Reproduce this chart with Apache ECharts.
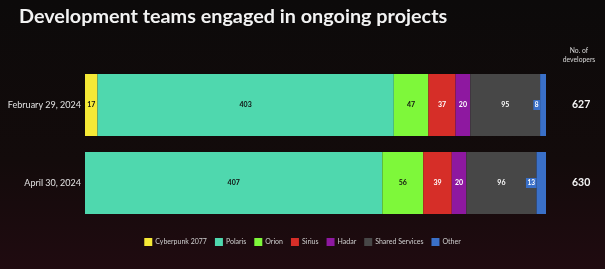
<!DOCTYPE html>
<html><head><meta charset="utf-8">
<script src="https://cdn.jsdelivr.net/npm/echarts@6/dist/echarts.min.js"></script>
<style>html,body{margin:0;padding:0;background:#0c0a0a}#c{width:605px;height:269px}</style>
</head><body><div id="c"></div>
<script>
const categories = ['February 29, 2024', 'April 30, 2024'];
const totals = [627, 630];
const seriesNames = ['Cyberpunk 2077', 'Polaris', 'Orion', 'Sirius', 'Hadar', 'Shared Services', 'Other'];
const cyberpunk = [17, 0];
const polaris = [403, 407];
const orion = [47, 56];
const sirius = [37, 39];
const hadar = [20, 20];
const shared = [95, 96];
const other = [8, 13];

const colors = ['#f5e936', '#4fd8ae', '#7ef83a', '#d62e28', '#8e18a0', '#474747', '#3a70c8'];
const labelColors = ['#111', '#111', '#111', '#fff', '#fff', '#fff', '#fff'];
const raw = [cyberpunk, polaris, orion, sirius, hadar, shared, other];
const rowSums = categories.map((_, i) => raw.reduce((s, arr) => s + arr[i], 0));

const series = raw.map((arr, k) => ({
  name: seriesNames[k],
  type: 'bar',
  stack: 'a',
  barWidth: 62,
  itemStyle: { color: colors[k] },
  data: arr.map((v, i) => ({ value: v / rowSums[i] * 100, raw: v })),
  label: k === 6 ? {
    show: true, position: 'left', distance: 0,
    formatter: p => p.data.raw,
    color: '#fff', fontSize: 6.5, fontWeight: 'bold',
    backgroundColor: colors[6], padding: [2, 1.5, 1, 1.5],
    fontFamily: 'Lato'
  } : {
    show: true, position: 'inside',
    formatter: p => p.data.raw ? p.data.raw : '',
    color: labelColors[k], fontSize: 7, fontWeight: 'bold', fontFamily: 'Lato'
  }
}));

const chart = echarts.init(document.getElementById('c'));
chart.setOption({
  backgroundColor: {
    type: 'linear', x: 0, y: 0, x2: 0, y2: 1,
    colorStops: [{ offset: 0, color: '#0c0a0a' }, { offset: 0.6, color: '#130b0b' }, { offset: 1, color: '#200b10' }]
  },
  animation: false,
  title: {
    text: 'Development teams engaged in ongoing projects',
    left: 14, top: 2,
    textStyle: { color: '#f2f2f2', fontSize: 19.8, fontWeight: 'bold', fontFamily: 'Lato' }
  },
  graphic: [{
    type: 'text', x: 579, y: 46,
    style: { text: 'No. of\ndevelopers', fill: '#d8d8d8', fontSize: 6.8, fontFamily: 'Lato', align: 'center', lineHeight: 9.5 }
  }],
  legend: {
    bottom: 18, left: 'center',
    itemWidth: 8, itemHeight: 8, itemGap: 8,
    icon: 'rect',
    textStyle: { color: '#cfcfcf', fontSize: 7, fontFamily: 'Lato', padding: [0, 0, 0, -2] },
    data: seriesNames
  },
  grid: { left: 85, right: 59, top: 66, bottom: 47 },
  xAxis: { type: 'value', min: 0, max: 100, show: false },
  yAxis: [{
    type: 'category', data: categories, inverse: true,
    axisLine: { show: false }, axisTick: { show: false },
    axisLabel: { color: '#e2e2e2', fontSize: 9, margin: 4, fontFamily: 'Lato' }
  }, {
    type: 'category', data: totals, inverse: true, position: 'right',
    axisLine: { show: false }, axisTick: { show: false },
    axisLabel: { color: '#f5f5f5', fontSize: 10.5, fontWeight: 'bold', margin: 26, fontFamily: 'Lato' }
  }],
  series: series
});
</script>
</body></html>
